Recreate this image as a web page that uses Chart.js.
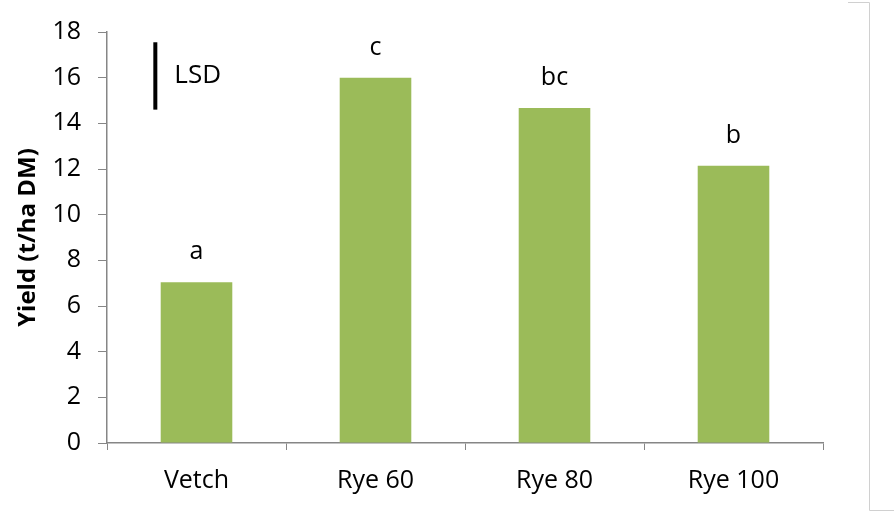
<!DOCTYPE html>
<html>
<head>
<meta charset="utf-8">
<script src="https://cdn.jsdelivr.net/npm/chart.js@4.4.1/dist/chart.umd.min.js"></script>
<style>
  html, body { margin: 0; padding: 0; background: #fff; }
  #wrap { width: 894px; height: 512px; }
</style>
</head>
<body>
<div id="wrap"><canvas id="mycanvas" width="894" height="512"></canvas></div>
<script>
const categories = ['Vetch', 'Rye 60', 'Rye 80', 'Rye 100'];
const yield_list = [7.04, 16.0, 14.67, 12.14];
const letters = ['a', 'c', 'bc', 'b'];
const y_ticks = [0, 2, 4, 6, 8, 10, 12, 14, 16, 18];
// LSD bar drawn from 14.6 to 17.55 on the y axis
const lsd_range = [14.6, 17.55];

const FONT = "'Open Sans', 'Liberation Sans', sans-serif";
const AXIS = '#868686';

const letterPlugin = {
    id: 'letters',
    afterDatasetsDraw(chart) {
        const ctx = chart.ctx;
        const meta = chart.getDatasetMeta(0);
        ctx.save();
        ctx.fillStyle = '#000';
        ctx.font = '25px ' + FONT;
        ctx.textAlign = 'center';
        ctx.textBaseline = 'middle';
        meta.data.forEach((bar, i) => {
            ctx.fillText(letters[i], bar.x, bar.y - 30);
        });

        // LSD marker
        const y = chart.scales.y;
        const x = chart.scales.x;
        const lx = x.getPixelForValue(-0.23);
        ctx.fillRect(lx - 2, y.getPixelForValue(lsd_range[1]), 4,
            y.getPixelForValue(lsd_range[0]) - y.getPixelForValue(lsd_range[1]));
        ctx.textAlign = 'left';
        ctx.font = '26px ' + FONT;
        ctx.fillText('LSD', lx + 19, y.getPixelForValue(16.1));
        ctx.restore();
    },
    afterDraw(chart) {
        // remnant of the frame on the right
        const ctx = chart.ctx;
        ctx.save();
        ctx.strokeStyle = '#d0d0d0';
        ctx.lineWidth = 1;
        ctx.beginPath();
        ctx.moveTo(848, 2.5);
        ctx.lineTo(869.5, 2.5);
        ctx.lineTo(869.5, 510.5);
        ctx.lineTo(894, 510.5);
        ctx.stroke();
        ctx.restore();
    }
};

const mycanvas = document.getElementById('mycanvas').getContext('2d');
const chart = new Chart(mycanvas, {
    type: 'bar',
    data: {
        labels: categories,
        datasets: [
            {
                label: 'Yield',
                data: yield_list,
                backgroundColor: '#9BBB59',
                borderWidth: 0,
                barPercentage: 0.4,
                categoryPercentage: 1,
            }
        ]
    },
    options: {
        responsive: false,
        animation: false,
        events: [],
        layout: {
            padding: { top: 29, right: 71, left: 14, bottom: 0 }
        },
        plugins: {
            legend: { display: false },
            tooltip: { enabled: false },
        },
        scales: {
            x: {
                grid: {
                    display: true,
                    drawOnChartArea: false,
                    drawTicks: true,
                    tickLength: 7,
                    color: AXIS,
                    offset: true,
                },
                border: { color: AXIS, width: 1.5 },
                ticks: {
                    color: '#000',
                    padding: 16,
                    font: { family: FONT, size: 25 }
                },
                afterFit(scale) { scale.height = 69; }
            },
            y: {
                min: 0,
                max: 18,
                afterBuildTicks(scale) {
                    scale.ticks = y_ticks.map(v => ({ value: v }));
                },
                grid: {
                    display: true,
                    drawOnChartArea: false,
                    drawTicks: true,
                    tickLength: 9,
                    color: AXIS,
                },
                border: { color: AXIS, width: 1.5 },
                ticks: {
                    color: '#000',
                    padding: 17,
                    font: { family: FONT, size: 25 }
                },
                title: {
                    display: true,
                    text: 'Yield (t/ha DM)',
                    color: '#000',
                    padding: 0,
                    font: { family: FONT, size: 24, weight: 'bold' }
                },
                afterFit(scale) { scale.width = 93; }
            }
        }
    },
    plugins: [letterPlugin]
});
</script>
</body>
</html>
